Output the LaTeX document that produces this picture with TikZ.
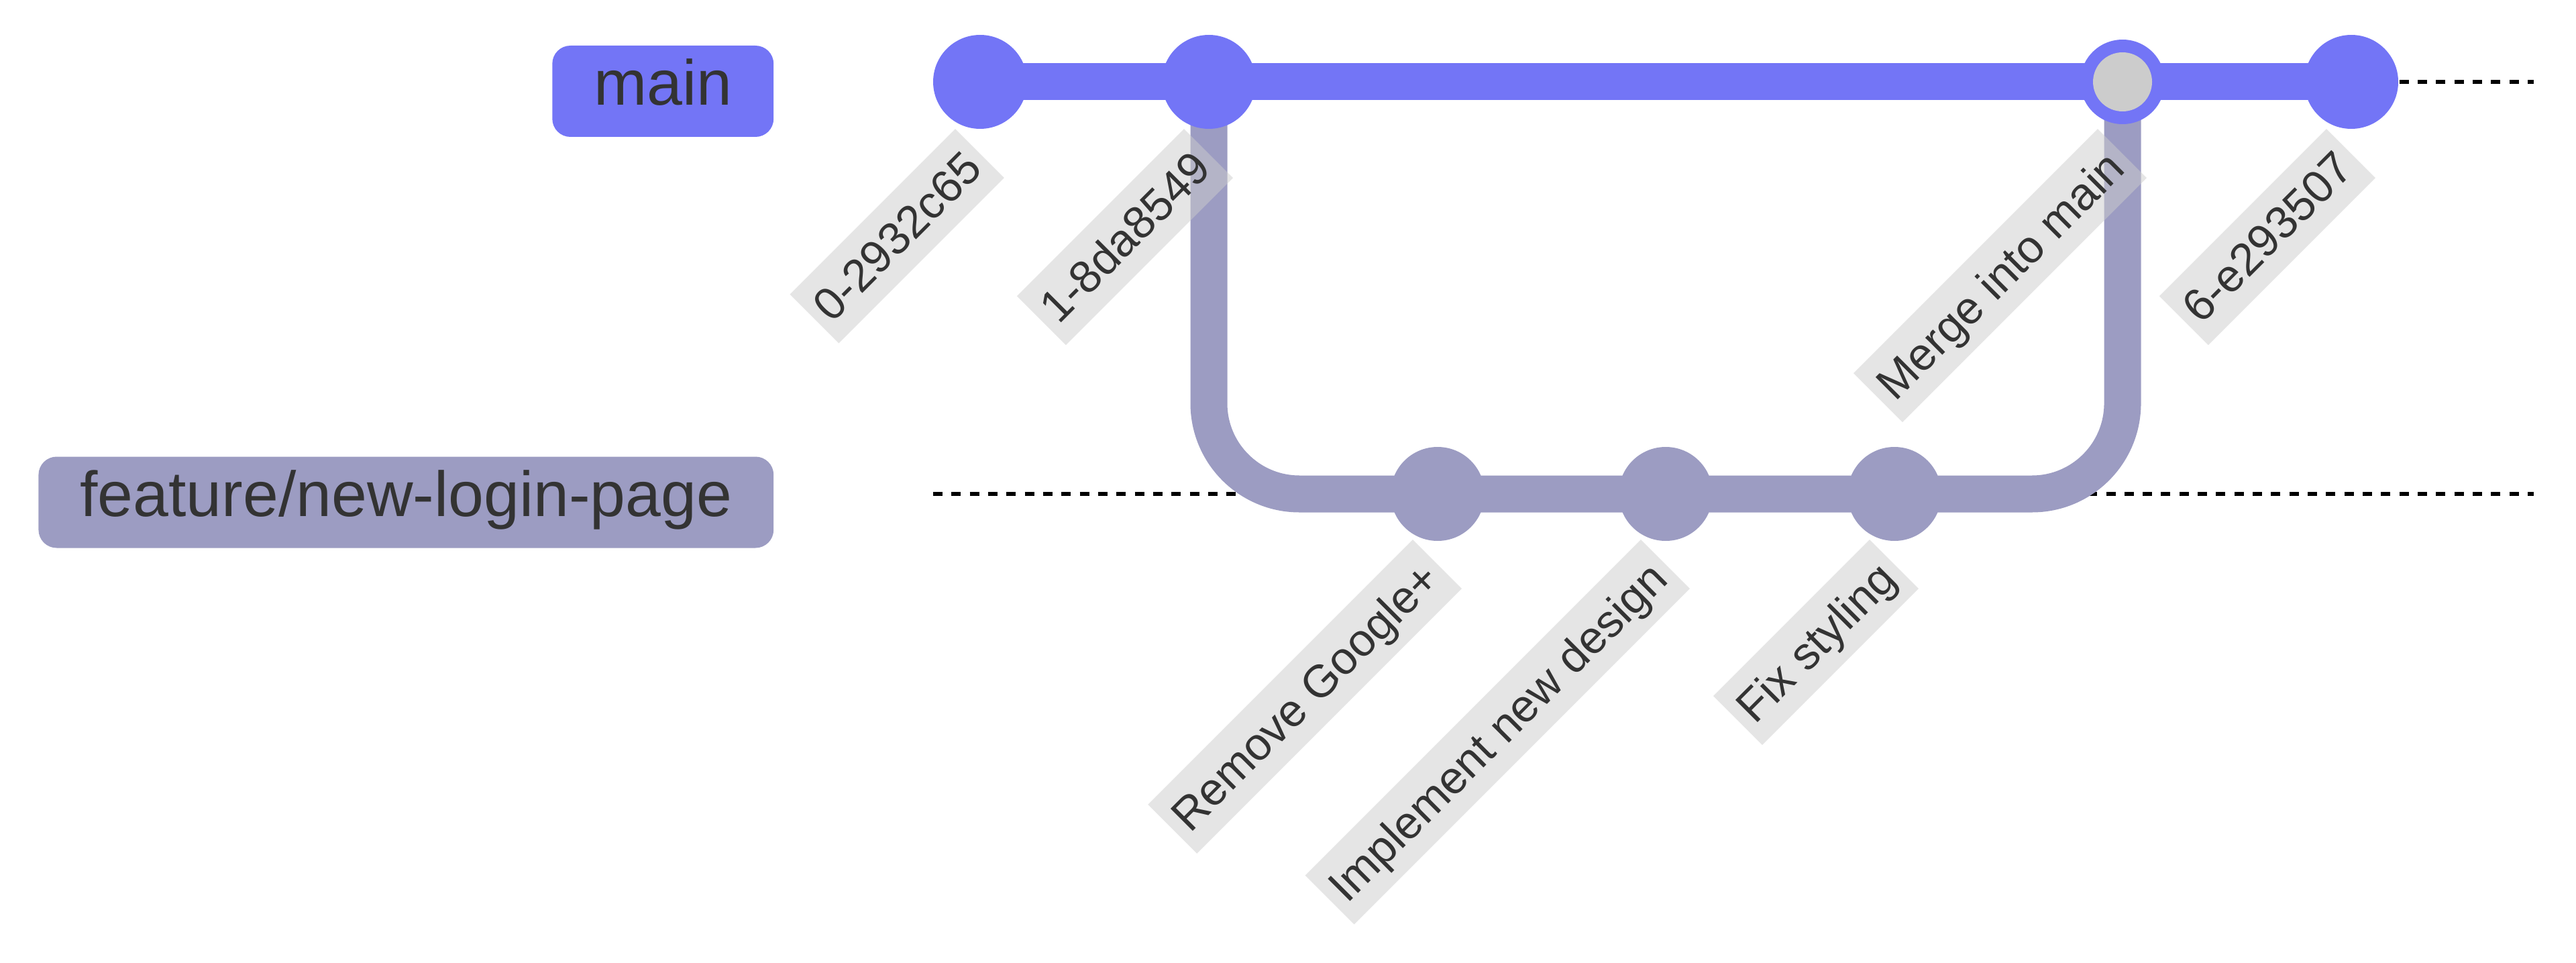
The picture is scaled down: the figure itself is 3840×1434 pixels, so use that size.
\documentclass[tikz,border=0pt]{standalone}
\usepackage{fontspec}
\setmainfont{Liberation Sans}
\usetikzlibrary{backgrounds}
\definecolor{mainc}{RGB}{115,117,246}
\definecolor{featc}{RGB}{156,156,194}
\definecolor{lblbg}{RGB}{204,204,204}
\definecolor{txt}{RGB}{51,51,51}
\begin{document}
\begin{tikzpicture}[x=0.25pt,y=-0.25pt,
  commit/.style={circle,inner sep=0pt,minimum size=35pt},
  mcommit/.style={commit,fill=mainc},
  fcommit/.style={commit,fill=featc},
  clabel/.style={fill=lblbg,fill opacity=0.5,text opacity=1,text=txt,rotate=45,anchor=east,
    inner xsep=3.4pt,inner ysep=3.4pt,text height=15.4pt,text depth=3.6pt,
    font=\fontsize{17pt}{20pt}\selectfont},
  blabel/.style={rounded corners=6.75pt,text=txt,anchor=east,inner xsep=15.5pt,inner ysep=3.75pt,
    text height=18.5pt,text depth=8pt,font=\fontsize{23.75pt}{28pt}\selectfont},
  branchline/.style={line width=13.75pt},
  guide/.style={line width=1.6pt,dash pattern=on 3.5pt off 3.33pt}
]
\useasboundingbox (0,0) rectangle (3840,1434);
% guide line ends
\coordinate (mstart) at (1391,122);
\coordinate (mend) at (3777,122);
\coordinate (fstart) at (1391,736);
\coordinate (fend) at (3777,736);
% commits
\node[mcommit] (c0) at (1461,122) {};
\node[mcommit] (c1) at (1802,122) {};
\node[fcommit] (c2) at (2143,736) {};
\node[fcommit] (c3) at (2483,736) {};
\node[fcommit] (c4) at (2824,736) {};
\node[commit,fill=mainc,minimum size=31.5pt] (c5) at (3164,122) {};
\node[commit,fill=lblbg,minimum size=22pt] (c5in) at (c5.center) {};
\node[mcommit] (c6) at (3505,122) {};
% lines
\begin{scope}[on background layer]
  \draw[guide] (mstart) -- (mend);
  \draw[guide] (fstart) -- (fend);
  \draw[branchline,featc,rounded corners=33.75pt] (c1.center) -- (c1.center |- fstart) -- (c5.center |- fstart) -- (c5.center);
  \draw[branchline,mainc] (c0.center) -- (c6.center);
\end{scope}
% branch labels
\node[blabel,fill=mainc] (bmain) at (1154,136) {main};
\node[blabel,fill=featc] (bfeat) at (1154,748.5) {feature/new-login-page};
% commit labels
\node[clabel] (l0) at ([yshift=-26.5pt]c0.center) {0-2932c65};
\node[clabel] (l1) at ([yshift=-26.5pt]c1.center) {1-8da8549};
\node[clabel] (l2) at ([yshift=-26pt]c2.center) {Remove Google+};
\node[clabel] (l3) at ([yshift=-26pt]c3.center) {Implement new design};
\node[clabel] (l4) at ([yshift=-26pt]c4.center) {Fix styling};
\node[clabel] (l5) at ([yshift=-26.5pt]c5.center) {Merge into main};
\node[clabel] (l6) at ([yshift=-26.5pt]c6.center) {6-e293507};
\end{tikzpicture}
\end{document}
